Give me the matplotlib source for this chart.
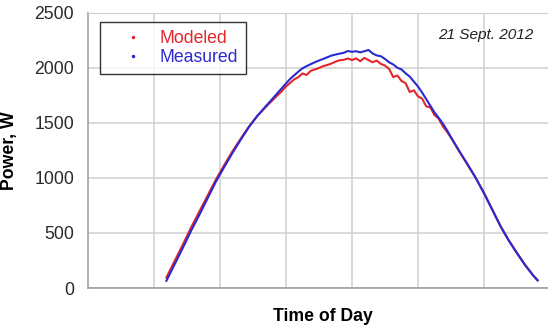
import matplotlib
matplotlib.use("Agg")
import matplotlib.pyplot as plt
from matplotlib.lines import Line2D

plt.rcParams['font.family'] = ['Liberation Sans', 'DejaVu Sans']

# Time of day (hours)
hours = [8.375, 8.625, 8.875, 9.125, 9.375, 9.625, 9.875, 10.125, 10.375,
         10.625, 10.875, 11.125, 11.375,
         11.5, 11.625, 11.75, 11.875, 12.0, 12.125, 12.25, 12.375, 12.5,
         12.625, 12.75, 12.875, 13.0, 13.125, 13.25, 13.375, 13.5, 13.625,
         13.75, 13.875, 14.0, 14.125, 14.25, 14.375, 14.5, 14.625, 14.75,
         14.875, 15.0, 15.125, 15.25, 15.375, 15.5, 15.625, 15.75, 15.875,
         16.0, 16.125, 16.25, 16.375, 16.5, 16.625, 16.75, 16.875,
         17.0, 17.25, 17.5, 17.75, 18.0, 18.25, 18.5, 18.75, 19.0, 19.25,
         19.5, 19.625]

# Power, W
modeled = [95, 245, 395, 550, 695, 840, 985, 1115, 1240,
           1355, 1465, 1560, 1640,
           1678, 1715, 1752, 1788, 1830, 1862, 1895, 1915, 1948,
           1935, 1972, 1985, 1998, 2015, 2025, 2038, 2055, 2068,
           2072, 2085, 2070, 2085, 2060, 2090, 2070, 2050, 2065,
           2035, 2020, 1990, 1915, 1930, 1880, 1860, 1780, 1795,
           1740, 1720, 1650, 1640, 1570, 1540, 1470, 1420,
           1365, 1240, 1120, 1000, 865, 715, 565, 435, 320, 210,
           112, 72]

measured = [65, 215, 365, 520, 665, 815, 965, 1097, 1225,
            1345, 1461, 1561, 1646,
            1688, 1730, 1773, 1815, 1857, 1899, 1932, 1965, 1995,
            2015, 2033, 2050, 2066, 2080, 2095, 2110, 2120, 2128,
            2136, 2152, 2145, 2150, 2140, 2150, 2162, 2130, 2112,
            2105, 2080, 2050, 2030, 2000, 1985, 1950, 1920, 1875,
            1830, 1775, 1715, 1655, 1595, 1545, 1495, 1435,
            1370, 1245, 1125, 1000, 860, 710, 560, 430, 315, 205,
            110, 68]

yticks = [0, 500, 1000, 1500, 2000, 2500]
xgrid = [8, 10, 12, 14, 16, 18]

red = '#e3262b'
blue = '#2a2ad2'

fig = plt.figure(figsize=(5.48, 3.31), dpi=100)
ax = fig.add_axes([0.1606, 0.1299, 0.843, 0.8317])

ax.plot(hours, modeled, color=red, lw=1.5)
ax.plot(hours, measured, color=blue, lw=1.5)

ax.set_xlim(6, 20)
ax.set_ylim(0, 2500)
ax.set_yticks(yticks)
ax.set_xticks(xgrid)
ax.set_xticklabels([])
ax.grid(True, color='#cfcfcf', lw=1.1)
ax.set_axisbelow(True)
ax.tick_params(axis='both', length=0, labelsize=12.7, labelcolor='#2a2a2a')
ax.tick_params(axis='y', pad=10)
for side in ['left', 'bottom']:
    ax.spines[side].set_color('#9a9a9a')
    ax.spines[side].set_linewidth(1.1)
ax.spines['top'].set_color('#cfcfcf')
ax.spines['right'].set_visible(False)

ax.set_ylabel('Power, W', fontsize=12.7, fontweight='bold')
ax.yaxis.set_label_coords(-0.152, 0.5)
ax.set_xlabel('Time of Day', fontsize=12.7, fontweight='bold')
ax.xaxis.label.set_va('center')
ax.xaxis.set_label_coords(0.508, -0.102)

ax.text(0.963, 0.919, '21 Sept. 2012', transform=ax.transAxes,
        ha='right', va='center', fontsize=11.1, style='italic', color='#222222')

handles = [
    Line2D([0], [0], marker='.', color=red, ls='none', markersize=3),
    Line2D([0], [0], marker='.', color=blue, ls='none', markersize=3),
]
leg = ax.legend(handles, ['Modeled', 'Measured'], loc='upper left',
                bbox_to_anchor=(0.026, 0.966), borderaxespad=0,
                fontsize=12.7, frameon=True, fancybox=False,
                handlelength=2.8, handletextpad=0.15, borderpad=0.45,
                labelspacing=0.12)
leg.get_frame().set_edgecolor('black')
leg.get_frame().set_linewidth(1.0)
for txt, c in zip(leg.get_texts(), [red, blue]):
    txt.set_color(c)

fig.savefig('out.png', dpi=100)
